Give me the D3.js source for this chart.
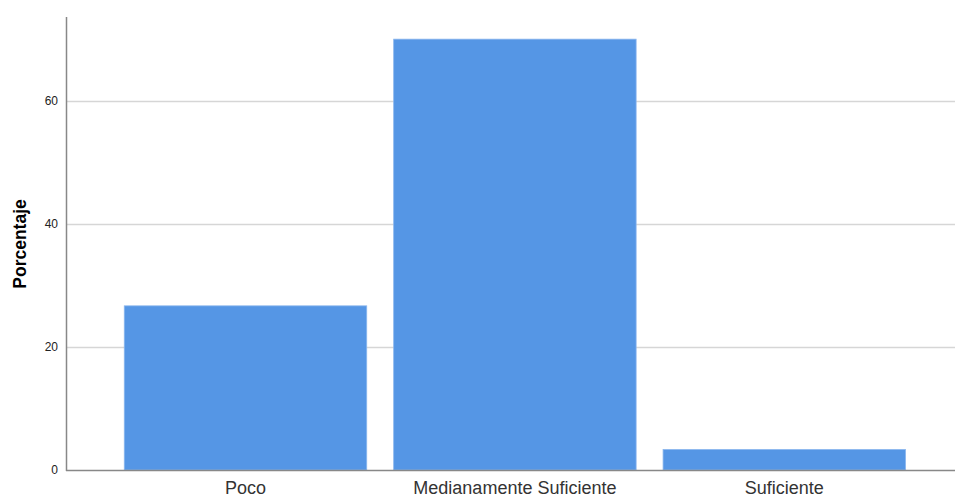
<!DOCTYPE html>
<html><head><meta charset="utf-8">
<script src="https://cdn.jsdelivr.net/npm/d3@7"></script>
<style>body{margin:0;background:#fff}svg{display:block;font-family:"Liberation Sans",Arial,sans-serif}</style>
</head><body><svg id="c" width="955" height="497"></svg>
<script>
const categories = ["Poco", "Medianamente Suficiente", "Suficiente"];
const values = [26.67, 70.0, 3.33];
const yTicks = [0, 20, 40, 60];
const yLabel = "Porcentaje";

const svg = d3.select("#c");
const x0 = 66, xEnd = 955, yTop = 17, yBase = 470;
const y = d3.scaleLinear().domain([0, 73.6]).range([yBase, yTop]);
const x = d3.scaleBand().domain(categories).range([110.8, 919]).paddingInner(0.1).paddingOuter(0.05);

// gridlines
svg.append("g").selectAll("line").data(yTicks.filter(d => d > 0)).join("line")
  .attr("x1", x0).attr("x2", xEnd)
  .attr("y1", d => Math.round(y(d)) + 0.5).attr("y2", d => Math.round(y(d)) + 0.5)
  .attr("stroke", "#d6d6d6").attr("stroke-width", 1.5);

// bars
svg.append("g").selectAll("rect").data(values).join("rect")
  .attr("x", (d, i) => x(categories[i]))
  .attr("width", x.bandwidth())
  .attr("y", d => y(d))
  .attr("height", d => yBase - y(d))
  .attr("fill", "#5596e5")
  .attr("stroke", "#8ab6ee").attr("stroke-width", 0.8);

// y axis
const yAxis = d3.axisLeft(y).tickValues(yTicks).tickSize(0).tickPadding(8);
const gy = svg.append("g").attr("transform", `translate(${x0},0)`).call(yAxis);
gy.select(".domain").remove();
gy.selectAll("text").attr("font-size", 12).attr("fill", "#222").attr("font-family", "'Liberation Sans',Arial,sans-serif");
svg.append("line").attr("x1", x0 + 0.5).attr("x2", x0 + 0.5).attr("y1", yTop).attr("y2", yBase + 1)
  .attr("stroke", "#888").attr("stroke-width", 1.5);

// x axis
const xAxis = d3.axisBottom(x).tickSize(0).tickPadding(11);
const gx = svg.append("g").attr("transform", `translate(0,${yBase})`).call(xAxis);
gx.select(".domain").remove();
gx.selectAll("text").attr("font-size", 18).attr("fill", "#333").attr("font-family", "'Liberation Sans',Arial,sans-serif");
svg.append("line").attr("x1", x0).attr("x2", xEnd).attr("y1", yBase + 0.5).attr("y2", yBase + 0.5)
  .attr("stroke", "#888").attr("stroke-width", 1.5);

// y label
svg.append("text").attr("transform", `translate(26,244) rotate(-90)`)
  .attr("text-anchor", "middle").attr("font-size", 17.5).attr("font-weight", "bold").attr("fill", "#000")
  .text(yLabel);
</script></body></html>
